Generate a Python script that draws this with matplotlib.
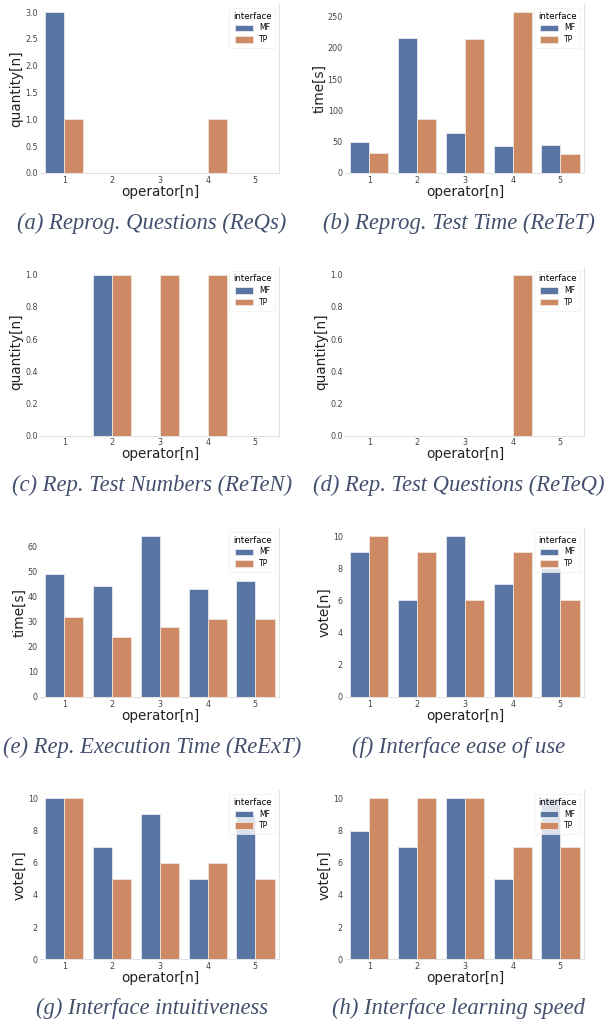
import numpy as np
import matplotlib
matplotlib.use("Agg")
import matplotlib.pyplot as plt
import seaborn as sns

operators = ["1", "2", "3", "4", "5"]
interfaces = ["MF", "TP"]

# values per panel: (MF, TP)
reqs_mf = [3, 0, 0, 0, 0]
reqs_tp = [1, 0, 0, 1, 0]
retet_mf = [49, 215, 64, 43, 45]
retet_tp = [32, 87, 214, 257, 30]
reten_mf = [0, 1, 0, 0, 0]
reten_tp = [0, 1, 1, 1, 0]
reteq_mf = [0, 0, 0, 0, 0]
reteq_tp = [0, 0, 0, 1, 0]
rext_mf = [49, 44, 64, 43, 46]
rext_tp = [32, 24, 28, 31, 31]
ease_mf = [9, 6, 10, 7, 8]
ease_tp = [10, 9, 6, 9, 6]
intu_mf = [10, 7, 9, 5, 9]
intu_tp = [10, 5, 6, 6, 5]
learn_mf = [8, 7, 10, 5, 10]
learn_tp = [10, 10, 10, 7, 7]

panels = [
    (reqs_mf, reqs_tp, "quantity[n]", "(a) Reprog. Questions (ReQs)"),
    (retet_mf, retet_tp, "time[s]", "(b) Reprog. Test Time (ReTeT)"),
    (reten_mf, reten_tp, "quantity[n]", "(c) Rep. Test Numbers (ReTeN)"),
    (reteq_mf, reteq_tp, "quantity[n]", "(d) Rep. Test Questions (ReTeQ)"),
    (rext_mf, rext_tp, "time[s]", "(e) Rep. Execution Time (ReExT)"),
    (ease_mf, ease_tp, "vote[n]", "(f) Interface ease of use"),
    (intu_mf, intu_tp, "vote[n]", "(g) Interface intuitiveness"),
    (learn_mf, learn_tp, "vote[n]", "(h) Interface learning speed"),
]

colors = [sns.desaturate("#4C72B0", 0.75), sns.desaturate("#DD8452", 0.75)]
spine_col = "#e2e2e2"
cap_col = "#434f6c"

W, H = 610, 1026
fig = plt.figure(figsize=(W / 100, H / 100), dpi=100)

col_x = [40.5, 345.5]
ax_w = 238.8
row_bot = [173, 435.7, 697, 959.3]
ax_h = 169
cap_y = [223, 485, 747, 1008]
cap_x = [152, 459]

x = np.arange(len(operators))
bw = 0.4

for i, (mf, tp, ylab, cap) in enumerate(panels):
    r, c = divmod(i, 2)
    ax = fig.add_axes([col_x[c] / W, 1 - row_bot[r] / H, ax_w / W, ax_h / H])
    ax.bar(x - bw / 2, mf, bw, color=colors[0], edgecolor="#e8e8f0", linewidth=0.6, label=interfaces[0])
    ax.bar(x + bw / 2, tp, bw, color=colors[1], edgecolor="#f0e4dc", linewidth=0.6, label=interfaces[1])
    ax.set_xlim(-0.5, len(operators) - 0.5)
    ax.set_xticks(x)
    ax.set_xticklabels(operators)
    ax.tick_params(axis="both", length=0, labelsize=5.8, pad=2, colors="#444444")
    ax.set_xlabel("operator[n]", fontsize=9.8, labelpad=0, color="#222222")
    ax.set_ylabel(ylab, fontsize=9.8, labelpad=1, color="#222222")
    for s in ax.spines.values():
        s.set_color(spine_col)
        s.set_linewidth(0.8)
    ax.spines["left"].set_visible(False)
    ax.spines["top"].set_visible(False)
    leg = ax.legend(title="interface", fontsize=5.5, title_fontsize=6.2, loc="upper right",
                    frameon=True, framealpha=0.8, borderpad=0.5, handlelength=2.4,
                    handleheight=0.9, labelspacing=0.35, fancybox=False)
    leg.get_frame().set_edgecolor("#eeeeee")
    leg.get_frame().set_linewidth(0.6)
    fig.text(cap_x[c] / W, 1 - cap_y[r] / H, cap, ha="center", va="center",
             fontsize=16.3, style="italic", family="Liberation Serif", color=cap_col)

fig.savefig("out.png", dpi=100)
